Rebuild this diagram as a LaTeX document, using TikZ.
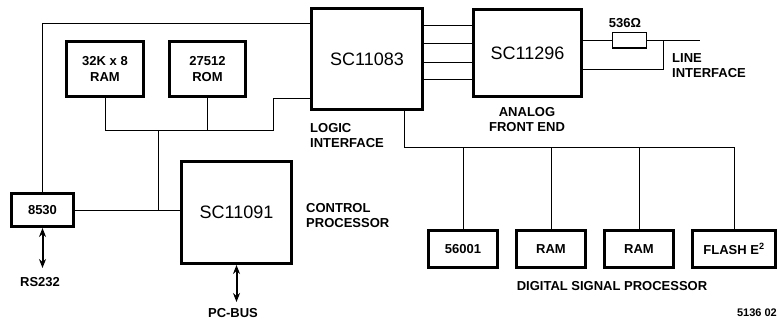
\documentclass[tikz,border=0pt]{standalone}
\usepackage{fontspec}
\setmainfont{Liberation Sans}
\usetikzlibrary{arrows.meta}

\begin{document}
\begin{tikzpicture}[x=1pt, y=-1pt,
    chip/.style={draw, line width=3pt, font=\fontsize{18}{20}\selectfont},
    part/.style={draw, line width=3pt, align=center, minimum height=37pt,
      font=\fontsize{13}{16}\selectfont\bfseries},
    wire/.style={line width=0.9pt},
    lbl/.style={align=left, inner sep=0pt, font=\fontsize{13}{15.5}\selectfont\bfseries},
    bus/.style={line width=2pt, {Stealth[length=9pt,width=7pt]}-{Stealth[length=9pt,width=7pt]}}]
    \useasboundingbox (0,0) rectangle (778,321);

    % Микросхемы
    \node[chip, minimum width=111pt, minimum height=101pt] (logic) at (367,59) {SC11083};
    \node[chip, minimum width=108pt, minimum height=87pt] (afe) at (527.5,53) {SC11296};
    \node[chip, minimum width=110pt, minimum height=102pt] (cpu) at (236.5,212.5) {SC11091};

    % Память и периферия
    \node[part, minimum width=77pt, minimum height=55pt] (ram) at (105,69) {32K x 8\\RAM};
    \node[part, minimum width=76pt, minimum height=55pt] (rom) at (207.5,69) {27512\\ROM};
    \node[part, minimum width=62pt, minimum height=33pt] (scc) at (42.5,210) {8530};
    \node[part, minimum width=69pt] (dsp) at (463,249) {56001};
    \node[part, minimum width=69pt] (rama) at (551,249) {RAM};
    \node[part, minimum width=69pt] (ramb) at (639,249) {RAM};
    \node[part, minimum width=83pt] (flash) at (734,249) {FLASH E\textsuperscript{2}};

    % Резистор
    \node[draw, line width=1.5pt, minimum width=34pt, minimum height=15.5pt, inner sep=0pt] (res) at (629.5,40.5) {};
    \node[lbl, anchor=south] (rval) at (625,28) {536Ω};

    % Шины
    \draw[wire] ([yshift=36pt]logic.west) -| (scc.north);
    \coordinate (mb) at (158,130);
    \draw[wire] ([yshift=-39pt]logic.west) -| (273,130) -| (ram.south);
    \draw[wire] (rom.south) -- (rom.south |- mb);
    \draw[wire] (mb) -- (mb |- scc.east);
    \draw[wire] (scc.east) -- (cpu.west |- scc.east);
    \foreach \y in {25,43,62,79}
        \draw[wire] (logic.east |- 0,\y) -- (afe.west |- 0,\y);

    % Линейный интерфейс
    \coordinate (lt) at (700,40.5);
    \draw[wire] (afe.east |- res.west) -- (res.west);
    \draw[wire] (res.east) -- (lt);
    \draw[wire] (afe.east |- 0,69) -| (663,40.5);

    % Шина DSP
    \coordinate (db) at (404,147);
    \draw[wire] (logic.south -| db) |- (flash.north |- db) -- (flash.north);
    \foreach \n in {dsp, rama, ramb}
        \draw[wire] (\n.north |- db) -- (\n.north);

    % Внешние шины
    \coordinate (rs) at (42.5,268);
    \coordinate (pc) at (236.5,302);
    \draw[bus] (scc.south) -- (rs);
    \draw[bus] (cpu.south) -- (pc);

    % Подписи
    \node[lbl, anchor=north] (rslbl) at (40,277) {RS232};
    \node[lbl, anchor=north] (pclbl) at (233,308) {PC-BUS};
    \node[lbl, anchor=north west] (lilbl) at (310,123) {LOGIC\\INTERFACE};
    \node[lbl, anchor=north, align=center] (afelbl) at (527,107) {ANALOG\\FRONT END};
    \node[lbl, anchor=north west] (linelbl) at (672,53) {LINE\\INTERFACE};
    \node[lbl, anchor=north west] (cplbl) at (306,203) {CONTROL\\PROCESSOR};
    \node[lbl, anchor=north] (dsplbl) at (612,281) {DIGITAL SIGNAL PROCESSOR};
    \node[lbl, anchor=north east, font=\fontsize{11}{13}\selectfont\bfseries] (fig) at (777,309) {5136 02};
\end{tikzpicture}
\end{document}
